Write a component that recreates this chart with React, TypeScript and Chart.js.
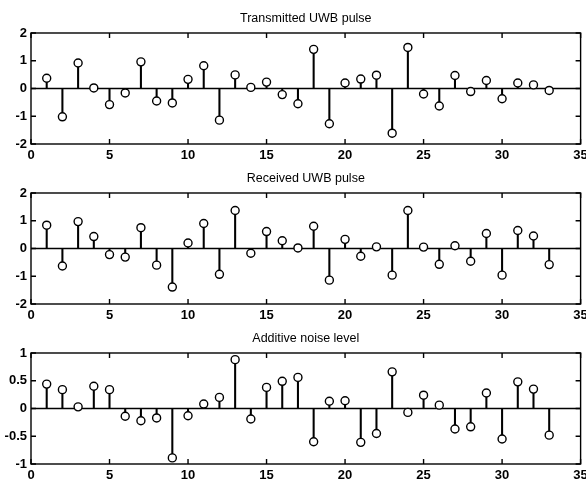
import React, { useEffect, useRef } from "react";
import { Chart, registerables } from "chart.js";

Chart.register(...registerables);

const sampleIndex = [1, 2, 3, 4, 5, 6, 7, 8, 9, 10, 11, 12, 13, 14, 15, 16, 17, 18, 19, 20, 21, 22, 23, 24, 25, 26, 27, 28, 29, 30, 31, 32, 33];

const transmitted = [0.37, -1.02, 0.92, 0.02, -0.58, -0.16, 0.96, -0.45, -0.52, 0.33, 0.82, -1.14, 0.49, 0.04, 0.23, -0.22, -0.55, 1.41, -1.27, 0.2, 0.34, 0.48, -1.61, 1.48, -0.2, -0.63, 0.47, -0.11, 0.29, -0.37, 0.2, 0.13, -0.07];

const received = [0.84, -0.63, 0.97, 0.43, -0.22, -0.31, 0.75, -0.6, -1.39, 0.2, 0.9, -0.93, 1.37, -0.17, 0.61, 0.28, 0.02, 0.8, -1.14, 0.33, -0.28, 0.06, -0.96, 1.37, 0.05, -0.57, 0.1, -0.46, 0.54, -0.96, 0.65, 0.45, -0.58];

const noise = [0.44, 0.34, 0.03, 0.4, 0.34, -0.14, -0.22, -0.17, -0.89, -0.13, 0.08, 0.2, 0.88, -0.19, 0.38, 0.49, 0.56, -0.6, 0.13, 0.14, -0.61, -0.45, 0.66, -0.07, 0.24, 0.06, -0.37, -0.33, 0.28, -0.55, 0.48, 0.35, -0.48];

const panelTitles = ["Transmitted UWB pulse", "Received UWB pulse", "Additive noise level"];
const xTicks = [0, 5, 10, 15, 20, 25, 30, 35];
const yTicksPulse = [-2, -1, 0, 1, 2];
const yTicksNoise = [-1, -0.5, 0, 0.5, 1];

const FONT = "'Liberation Sans', Arial, Helvetica, sans-serif";

const framePlugin = {
  id: "matlabFrame",
  beforeDatasetsDraw(chart: any) {
    const { ctx, chartArea, scales } = chart;
    const y0 = scales.y.getPixelForValue(0);
    ctx.save();
    ctx.strokeStyle = "#000";
    ctx.lineWidth = 1.4;
    ctx.beginPath();
    ctx.moveTo(chartArea.left, y0);
    ctx.lineTo(chartArea.right, y0);
    ctx.stroke();
    ctx.restore();
  },
  afterDatasetsDraw(chart: any, _args: any, opts: any) {
    const { ctx, chartArea, scales } = chart;
    const { left, right, top, bottom } = chartArea;
    const tl = 5;
    ctx.save();
    ctx.strokeStyle = "#000";
    ctx.lineWidth = 1.4;
    ctx.strokeRect(left, top, right - left, bottom - top);
    ctx.beginPath();
    for (const t of scales.x.ticks) {
      const px = scales.x.getPixelForValue(t.value);
      ctx.moveTo(px, top);
      ctx.lineTo(px, top + tl);
      ctx.moveTo(px, bottom);
      ctx.lineTo(px, bottom - tl);
    }
    for (const t of scales.y.ticks) {
      const py = scales.y.getPixelForValue(t.value);
      ctx.moveTo(left, py);
      ctx.lineTo(left + tl, py);
      ctx.moveTo(right, py);
      ctx.lineTo(right - tl, py);
    }
    ctx.stroke();
    ctx.fillStyle = "#000";
    ctx.font = `12.5px ${FONT}`;
    ctx.textAlign = "center";
    ctx.textBaseline = "middle";
    ctx.fillText(opts.text || "", (left + right) / 2, 19);
    ctx.restore();
  },
};

function Panel({ title, values, yTicks, top }: { title: string; values: number[]; yTicks: number[]; top: number }) {
  const ref = useRef<HTMLCanvasElement | null>(null);
  useEffect(() => {
    if (!ref.current) return;
    const pts = sampleIndex.map((x, i) => ({ x, y: values[i] }));
    const chart = new Chart(ref.current, {
      type: "bar",
      data: {
        datasets: [
          {
            type: "bar",
            data: pts,
            backgroundColor: "#000",
            borderWidth: 0,
            barThickness: 1.4,
            order: 2,
          } as any,
          {
            type: "line",
            data: pts,
            showLine: false,
            pointStyle: "circle",
            pointRadius: 4,
            pointBorderWidth: 1.4,
            pointBorderColor: "#000",
            pointBackgroundColor: "#fff",
            order: 1,
          } as any,
        ],
      },
      options: {
        animation: false,
        responsive: false,
        maintainAspectRatio: false,
        layout: { padding: { top: 33, right: 3, left: 0, bottom: 0 } },
        plugins: {
          legend: { display: false },
          tooltip: { enabled: false },
          matlabFrame: { text: title },
        } as any,
        scales: {
          x: {
            type: "linear",
            min: xTicks[0],
            max: xTicks[xTicks.length - 1],
            offset: false,
            grid: { display: false, drawTicks: false },
            border: { display: false },
            afterBuildTicks: (s: any) => {
              s.ticks = xTicks.map((v) => ({ value: v }));
            },
            afterFit: (s: any) => {
              s.height = 16;
              s.paddingLeft = 0;
              s.paddingRight = 0;
            },
            ticks: {
              padding: 4,
              color: "#000",
              maxRotation: 0,
              autoSkip: false,
              font: { family: FONT, size: 13, weight: "bold" },
              callback: (v: any) => String(v),
            },
          },
          y: {
            type: "linear",
            min: yTicks[0],
            max: yTicks[yTicks.length - 1],
            grid: { display: false, drawTicks: false },
            border: { display: false },
            afterBuildTicks: (s: any) => {
              s.ticks = yTicks.map((v) => ({ value: v }));
            },
            afterFit: (s: any) => {
              s.width = 31;
              s.paddingTop = 0;
              s.paddingBottom = 0;
            },
            ticks: {
              padding: 4,
              color: "#000",
              autoSkip: false,
              font: { family: FONT, size: 13, weight: "bold" },
              callback: (v: any) => String(v),
            },
          },
        },
      } as any,
      plugins: [framePlugin],
    });
    return () => chart.destroy();
  }, [title, values, yTicks]);
  return (
    <div style={{ position: "absolute", left: 0, top, width: 586, height: 160 }}>
      <canvas ref={ref} width={586} height={160} style={{ width: 586, height: 160, display: "block" }} />
    </div>
  );
}

export default function App() {
  return (
    <div style={{ position: "absolute", left: 0, top: 0, width: 586, height: 480, background: "#fff" }}>
      <Panel title={panelTitles[0]} values={transmitted} yTicks={yTicksPulse} top={0} />
      <Panel title={panelTitles[1]} values={received} yTicks={yTicksPulse} top={160} />
      <Panel title={panelTitles[2]} values={noise} yTicks={yTicksNoise} top={320} />
    </div>
  );
}
